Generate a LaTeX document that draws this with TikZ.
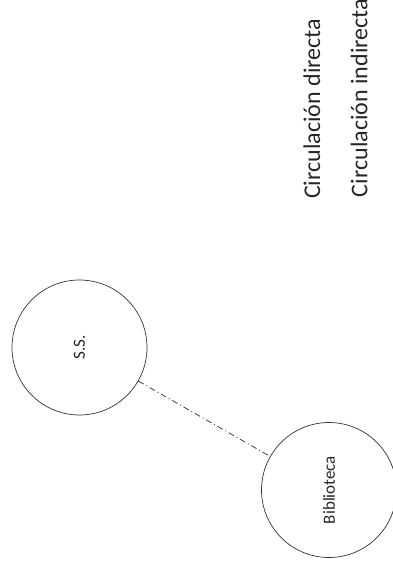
\documentclass[tikz,border=0pt]{standalone}
\usepackage{fontspec}
\setmainfont{Carlito}
\begin{document}
\begin{tikzpicture}[x=1pt,y=-1pt,
  place/.style={circle,draw=black!80,line width=0.7pt,minimum size=135pt,inner sep=0pt,font=\fontsize{17}{19}\selectfont,text=black!85},
  legend/.style={rotate=90,anchor=center,inner sep=0pt,font=\fontsize{24}{26}\selectfont,text=black!85},
  indirect/.style={draw=black!75,line width=0.8pt,dash pattern=on 6pt off 3pt on 1pt off 3pt}]
\useasboundingbox (0,0) rectangle (393,567);
\node[place] (ss) at (79.5,347.5) {\rotatebox{90}{S.S.}};
\node[place] (bib) at (329,490) {\rotatebox{90}{Biblioteca}};
\draw[indirect] (ss) -- (bib);
\node[legend] (l1) at (312,109) {Circulación directa};
\node[legend] (l2) at (359,98) {Circulación indirecta};
\end{tikzpicture}
\end{document}
